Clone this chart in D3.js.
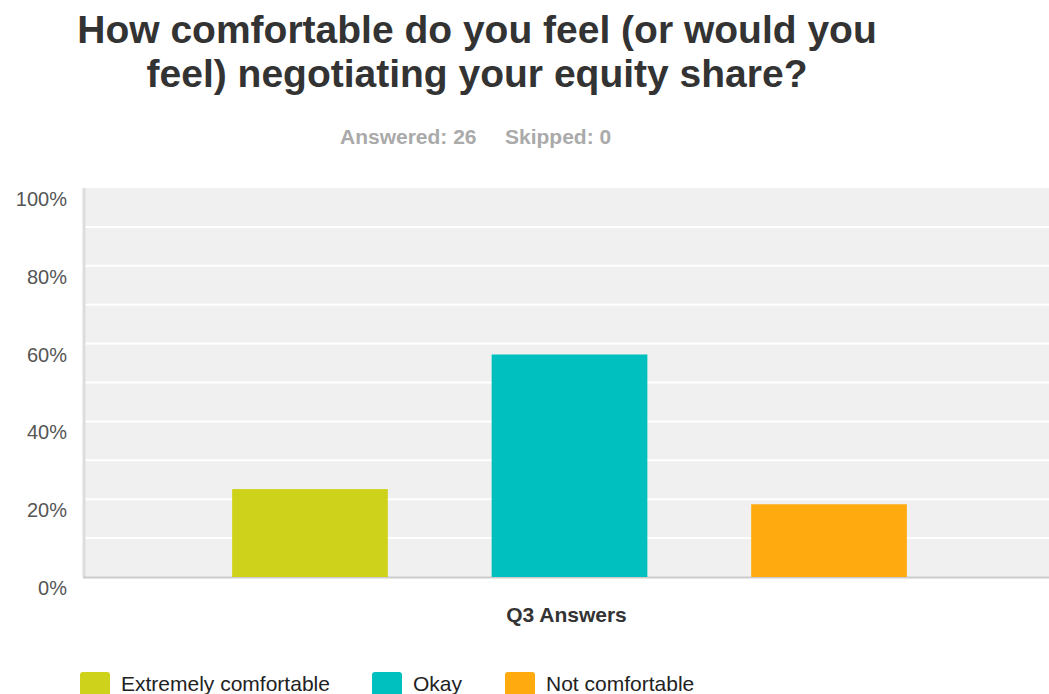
<!DOCTYPE html>
<html>
<head>
<meta charset="utf-8">
<script src="https://cdn.jsdelivr.net/npm/d3@7"></script>
<style>
  body { margin: 0; background: #fff; }
  text { font-family: "Liberation Sans", Arial, Helvetica, sans-serif; }
</style>
</head>
<body>
<svg id="chart" width="1049" height="694"></svg>
<script>
// survey data: share of the 26 answers per choice
let category = ['Q3 Answers'];
let answers = ['Extremely comfortable', 'Okay', 'Not comfortable'];
let shares = [22.6, 57.2, 18.7];
let colours = ['#cfd21b', '#00bfbf', '#ffab0f'];
let yTicks = [0, 20, 40, 60, 80, 100];
let gridTicks = [10, 20, 30, 40, 50, 60, 70, 80, 90];
let titleLines = ['How comfortable do you feel (or would you', 'feel) negotiating your equity share?'];
let subtitle = ['Answered: 26', 'Skipped: 0'];

let svg = d3.select('#chart');

let plot = { left: 83, right: 1056, top: 188, bottom: 577 };

// scales
let y = d3.scaleLinear()
    .domain([0, 100])
    .range([plot.bottom, plot.top]);
let x0 = d3.scaleBand()
    .domain(category)
    .range([plot.left, plot.right])
    .paddingOuter(0.221);
let x1 = d3.scaleBand()
    .domain(answers)
    .range([0, x0.bandwidth()])
    .paddingInner(0.4);

// title
svg.append('g').selectAll('text')
    .data(titleLines)
    .join('text')
        .attr('x', 477)
        .attr('y', (d, i) => 43 + i * 44)
        .attr('text-anchor', 'middle')
        .attr('font-size', 39)
        .attr('font-weight', 'bold')
        .attr('fill', '#333')
        .text(d => d);

// answered / skipped
svg.append('g').selectAll('text')
    .data(subtitle)
    .join('text')
        .attr('x', (d, i) => [340, 505][i])
        .attr('y', 144)
        .attr('font-size', 21)
        .attr('font-weight', 'bold')
        .attr('fill', '#aaa')
        .text(d => d);

// plot background and grid
svg.append('rect')
    .attr('x', plot.left)
    .attr('y', plot.top)
    .attr('width', 1049 - plot.left)
    .attr('height', plot.bottom - plot.top)
    .attr('fill', '#f0f0f0');

svg.append('g').classed('grid', true)
    .selectAll('line')
    .data(gridTicks)
    .join('line')
        .attr('x1', plot.left)
        .attr('x2', 1049)
        .attr('y1', d => y(d))
        .attr('y2', d => y(d))
        .attr('stroke', '#fff')
        .attr('stroke-width', 2);

// axis lines
svg.append('line')
    .attr('x1', plot.left + 1).attr('x2', plot.left + 1)
    .attr('y1', plot.top).attr('y2', plot.bottom)
    .attr('stroke', '#ddd').attr('stroke-width', 3);
svg.append('line')
    .attr('x1', plot.left).attr('x2', 1049)
    .attr('y1', plot.bottom + 0.5).attr('y2', plot.bottom + 0.5)
    .attr('stroke', '#ccc').attr('stroke-width', 2);

// y tick labels (sit a little below their value)
svg.append('g').selectAll('text')
    .data(yTicks)
    .join('text')
        .attr('x', 67)
        .attr('y', d => y(d) + 18)
        .attr('text-anchor', 'end')
        .attr('font-size', 20)
        .attr('fill', '#555')
        .text(d => d + '%');

// bars
let group = svg.append('g')
    .attr('transform', 'translate(' + x0(category[0]) + ',0)');
group.selectAll('rect')
    .data(answers)
    .join('rect')
        .attr('x', d => x1(d))
        .attr('width', x1.bandwidth())
        .attr('y', (d, i) => y(shares[i]))
        .attr('height', (d, i) => y(0) - y(shares[i]))
        .attr('fill', (d, i) => colours[i]);

// category label
svg.append('text')
    .attr('x', x0(category[0]) + x0.bandwidth() / 2 - 3)
    .attr('y', 622)
    .attr('text-anchor', 'middle')
    .attr('font-size', 21)
    .attr('font-weight', 'bold')
    .attr('fill', '#333')
    .text(category[0]);

// legend
let legendX = [80, 372, 505];
let legend = svg.append('g').selectAll('g')
    .data(answers)
    .join('g')
        .attr('transform', (d, i) => 'translate(' + legendX[i] + ',672)');
legend.append('rect')
    .attr('width', 30)
    .attr('height', 26)
    .attr('rx', 3)
    .attr('fill', (d, i) => colours[i]);
legend.append('text')
    .attr('x', 41)
    .attr('y', 19)
    .attr('font-size', 21)
    .attr('fill', '#222')
    .text(d => d);
</script>
</body>
</html>
